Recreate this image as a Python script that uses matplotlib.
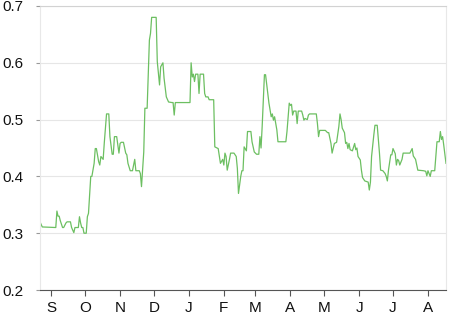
import matplotlib
matplotlib.use("Agg")
import matplotlib.pyplot as plt
import matplotlib.dates as mdates
import pandas as pd

# Observation times: days relative to 2017-09-01
start_date = "2017-09-01"
day_offsets = [
    -10, -8, 4, 5, 6, 7, 8, 10, 11, 13, 14, 17, 18, 20, 21, 22, 24, 25, 26, 27,
    28, 29, 31, 32, 33, 35, 36, 38, 39, 40, 42, 43, 44, 46, 47, 49, 51, 52, 54, 55,
    56, 58, 60, 61, 62, 64, 66, 67, 68, 70, 72, 74, 75, 78, 79, 80, 82, 83, 85, 87,
    88, 89, 93, 94, 96, 97, 99, 100, 102, 104, 107, 108, 109, 110, 123, 124, 125, 126, 127, 128,
    130, 131, 132, 135, 136, 137, 139, 140, 144, 145, 148, 150, 152, 153, 154, 155, 156, 158, 159, 162,
    164, 165, 166, 168, 169, 170, 171, 173, 174, 177, 178, 180, 182, 184, 185, 186, 187, 189, 190, 192,
    193, 195, 196, 197, 198, 200, 201, 208, 209, 211, 212, 213, 214, 215, 217, 218, 219, 222, 223, 224,
    225, 227, 228, 229, 235, 236, 237, 238, 243, 245, 246, 248, 249, 251, 253, 255, 256, 257, 258, 260,
    261, 262, 263, 264, 265, 267, 269, 270, 271, 272, 274, 275, 276, 278, 281, 282, 283, 284, 286, 287,
    289, 291, 292, 294, 296, 297, 298, 299, 301, 302, 303, 305, 306, 307, 308, 309, 311, 312, 318, 320,
    321, 323, 325, 330, 332, 333, 334, 336, 337, 340, 341, 342, 344, 345, 346, 347, 348, 350,
]
values = [
    0.320, 0.311, 0.310, 0.339, 0.330, 0.330, 0.322, 0.310, 0.310, 0.318, 0.320, 0.320, 0.310, 0.301, 0.310, 0.310, 0.310, 0.329, 0.318, 0.310,
    0.310, 0.300, 0.300, 0.329, 0.335, 0.400, 0.400, 0.423, 0.449, 0.449, 0.426, 0.420, 0.435, 0.430, 0.459, 0.510, 0.510, 0.470, 0.439, 0.439,
    0.470, 0.470, 0.441, 0.458, 0.460, 0.460, 0.441, 0.438, 0.423, 0.410, 0.410, 0.430, 0.410, 0.410, 0.405, 0.382, 0.443, 0.520, 0.520, 0.640,
    0.652, 0.680, 0.680, 0.602, 0.561, 0.593, 0.600, 0.573, 0.540, 0.531, 0.530, 0.530, 0.508, 0.530, 0.530, 0.600, 0.575, 0.580, 0.567, 0.580,
    0.580, 0.546, 0.580, 0.580, 0.546, 0.540, 0.540, 0.535, 0.535, 0.452, 0.449, 0.423, 0.430, 0.420, 0.441, 0.435, 0.411, 0.430, 0.441, 0.441,
    0.435, 0.414, 0.370, 0.400, 0.410, 0.410, 0.452, 0.445, 0.479, 0.479, 0.461, 0.443, 0.439, 0.439, 0.470, 0.450, 0.488, 0.579, 0.579, 0.546,
    0.529, 0.505, 0.510, 0.499, 0.505, 0.482, 0.461, 0.461, 0.479, 0.529, 0.525, 0.527, 0.508, 0.515, 0.515, 0.493, 0.515, 0.515, 0.508, 0.499,
    0.502, 0.500, 0.508, 0.510, 0.510, 0.493, 0.470, 0.481, 0.481, 0.477, 0.477, 0.458, 0.441, 0.458, 0.460, 0.488, 0.510, 0.500, 0.485, 0.477,
    0.458, 0.460, 0.449, 0.458, 0.447, 0.445, 0.458, 0.447, 0.450, 0.435, 0.429, 0.411, 0.398, 0.392, 0.390, 0.376, 0.390, 0.435, 0.473, 0.490,
    0.490, 0.441, 0.411, 0.410, 0.405, 0.400, 0.392, 0.411, 0.438, 0.438, 0.449, 0.440, 0.420, 0.430, 0.428, 0.420, 0.430, 0.441, 0.441, 0.449,
    0.436, 0.430, 0.411, 0.410, 0.409, 0.401, 0.410, 0.400, 0.410, 0.410, 0.435, 0.461, 0.461, 0.479, 0.465, 0.470, 0.455, 0.423,
]
y_ticks = [0.2, 0.3, 0.4, 0.5, 0.6, 0.7]

dates = pd.Timestamp(start_date) + pd.to_timedelta(day_offsets, unit="D")

plt.rcParams["font.family"] = ["Liberation Sans", "DejaVu Sans"]

fig = plt.figure(figsize=(4.6, 3.14), dpi=100)
ax = fig.add_axes([40 / 460, 24 / 314, 406 / 460, 284 / 314])

ax.plot(dates, values, color="#6cbf61", linewidth=0.9)

ax.set_ylim(0.2, 0.7)
ax.set_yticks(y_ticks)
ax.set_yticklabels([f"{t:.1f}" for t in y_ticks])
ax.set_xlim(dates[0], dates[-1])

ax.xaxis.set_major_locator(mdates.MonthLocator())
ax.xaxis.set_major_formatter(mdates.DateFormatter("%b"))
fig.canvas.draw()
ax.set_xticklabels([lbl.get_text()[0] for lbl in ax.get_xticklabels()])

ax.grid(axis="y", color="#e6e6e6", linewidth=0.8)
ax.set_axisbelow(True)
for side in ["left", "right"]:
    ax.spines[side].set_color("#e8e8e8")
    ax.spines[side].set_linewidth(0.8)
ax.spines["top"].set_color("#d2d2d2")
ax.spines["top"].set_linewidth(0.8)
ax.spines["bottom"].set_color("#555555")
ax.spines["bottom"].set_linewidth(0.8)

ax.tick_params(axis="x", length=4, width=0.8, color="#555555", pad=4,
               labelsize=11, labelcolor="#111111")
ax.tick_params(axis="y", length=3, width=0.8, color="#999999", pad=9,
               labelsize=11, labelcolor="#111111")

fig.savefig("out.png", dpi=100, facecolor="white")
